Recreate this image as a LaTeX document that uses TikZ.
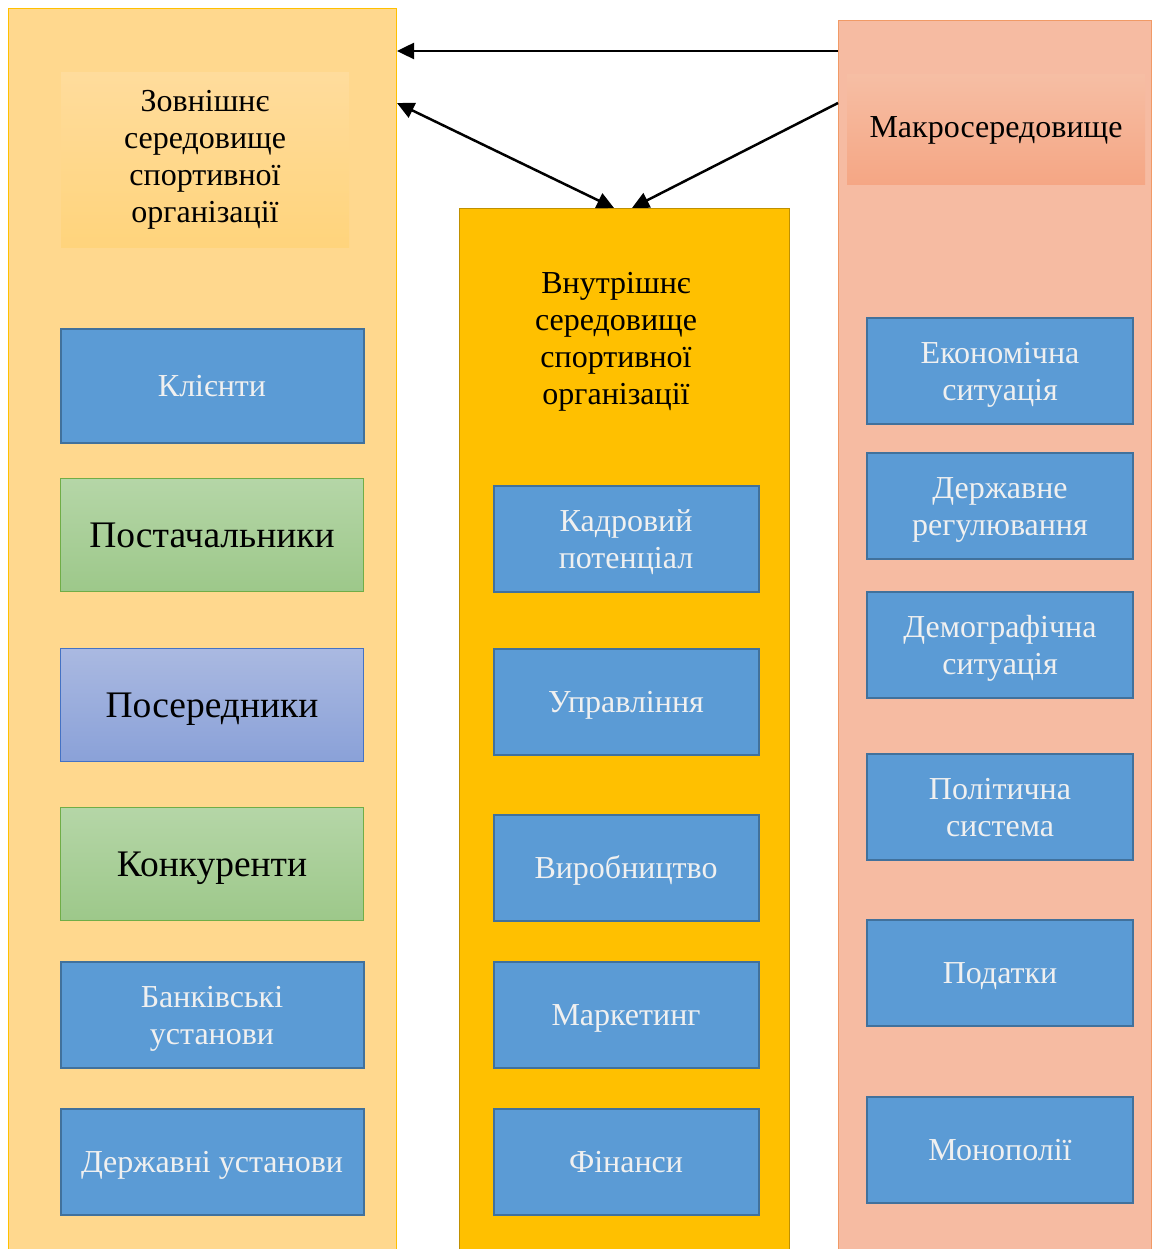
\documentclass[tikz,border=0pt]{standalone}
\usepackage{fontspec}
\setmainfont{Liberation Serif}
\usetikzlibrary{
    arrows.meta,
    positioning
}

\definecolor{extfill}{HTML}{FFD88E}
\definecolor{extline}{HTML}{FFC000}
\definecolor{exttop}{HTML}{FFDC9C}
\definecolor{extbot}{HTML}{FFD47C}
\definecolor{intfill}{HTML}{FFC000}
\definecolor{intline}{HTML}{BF9000}
\definecolor{macfill}{HTML}{F6BBA2}
\definecolor{macline}{HTML}{F19A66}
\definecolor{mactop}{HTML}{F6BEA4}
\definecolor{macbot}{HTML}{F5A684}
\definecolor{boxblue}{HTML}{5B9BD5}
\definecolor{boxline}{HTML}{41719C}
\definecolor{greentop}{HTML}{B5D6A7}
\definecolor{greenbot}{HTML}{9DC88A}
\definecolor{greenline}{HTML}{70AD47}
\definecolor{violettop}{HTML}{AAB9E1}
\definecolor{violetbot}{HTML}{8AA1D8}
\definecolor{violetline}{HTML}{4472C4}

\tikzset{
    column/.style={draw, line width=1pt, anchor=north west, inner sep=0pt},
    headtext/.style={align=center, font=\fontsize{32}{37}\selectfont},
    bluebox/.style={draw=boxline, fill=boxblue, line width=2pt, text=white!94!black,
        align=center, font=\fontsize{32}{37}\selectfont, minimum height=106pt,
        text height=28.5pt, text depth=6.9pt},
    twolines/.style={text height=65.5pt},
    greenbox/.style={draw=greenline, top color=greentop, bottom color=greenbot,
        line width=1pt, font=\fontsize{37.5}{43}\selectfont, minimum width=303pt,
        minimum height=113pt, text height=33.4pt, text depth=8.1pt},
    violetbox/.style={greenbox, draw=violetline, top color=violettop, bottom color=violetbot},
    tip/.tip={Triangle[length=17pt, width=16pt]},
    link/.style={line width=2.5pt, -tip},
    twolink/.style={line width=2.5pt, tip-tip}
}

\begin{document}
\begin{tikzpicture}[x=1pt, y=-1pt]
    \useasboundingbox (0, 0) rectangle (1152, 1249);

    % columns
    \node[column, draw=extline, fill=extfill, minimum width=388pt, minimum height=1260pt] (extcol) at (8, 8) {};
    \node[column, draw=intline, fill=intfill, minimum width=330pt, minimum height=1060pt] (intcol) at (459, 208) {};
    \node[column, draw=macline, fill=macfill, minimum width=313pt, minimum height=1250pt] (maccol) at (838, 20) {};

    % headers
    \node[headtext, top color=exttop, bottom color=extbot, minimum width=288pt, minimum height=175pt] (exthead) at (205, 160) {Зовнішнє\\середовище\\спортивної\\організації};
    \node[headtext] (inthead) at (616, 342) {Внутрішнє\\середовище\\спортивної\\організації};
    \node[headtext, top color=mactop, bottom color=macbot, minimum width=298pt, minimum height=110pt] (machead) at (996, 130) {Макросередовище};

    % external environment
    \node[bluebox, minimum width=303pt, minimum height=114pt] (clients) at (212, 386) {Клієнти};
    \node[greenbox] (suppliers) at (212, 535) {Постачальники};
    \node[violetbox] (brokers) at (212, 705) {Посередники};
    \node[greenbox] (rivals) at (212, 864) {Конкуренти};
    \node[bluebox, twolines, minimum width=303pt] (banks) at (212, 1015) {Банківські\\установи};
    \node[bluebox, minimum width=303pt] (stateinst) at (212, 1162) {Державні установи};

    % internal environment
    \node[bluebox, twolines, minimum width=265pt] (staff) at (626, 539) {Кадровий\\потенціал};
    \node[bluebox, minimum width=265pt] (manage) at (626, 702) {Управління};
    \node[bluebox, minimum width=265pt] (produce) at (626, 868) {Виробництво};
    \node[bluebox, minimum width=265pt] (market) at (626, 1015) {Маркетинг};
    \node[bluebox, minimum width=265pt] (finance) at (626, 1162) {Фінанси};

    % macro environment
    \node[bluebox, twolines, minimum width=266pt] (economy) at (1000, 371) {Економічна\\ситуація};
    \node[bluebox, twolines, minimum width=266pt] (regulate) at (1000, 506) {Державне\\регулювання};
    \node[bluebox, twolines, minimum width=266pt] (demography) at (1000, 645) {Демографічна\\ситуація};
    \node[bluebox, twolines, minimum width=266pt] (politics) at (1000, 807) {Політична\\система};
    \node[bluebox, minimum width=266pt] (taxes) at (1000, 973) {Податки};
    \node[bluebox, minimum width=266pt] (monopoly) at (1000, 1150) {Монополії};

    % links
    \draw[link] (maccol.west |- 0, 51) -- (extcol.east |- 0, 51);
    \draw[twolink] (extcol.east |- 0, 103) -- (intcol.north -| 614, 0);
    \draw[link] (maccol.west |- 0, 103) -- (intcol.north -| 632, 0);
\end{tikzpicture}
\end{document}
